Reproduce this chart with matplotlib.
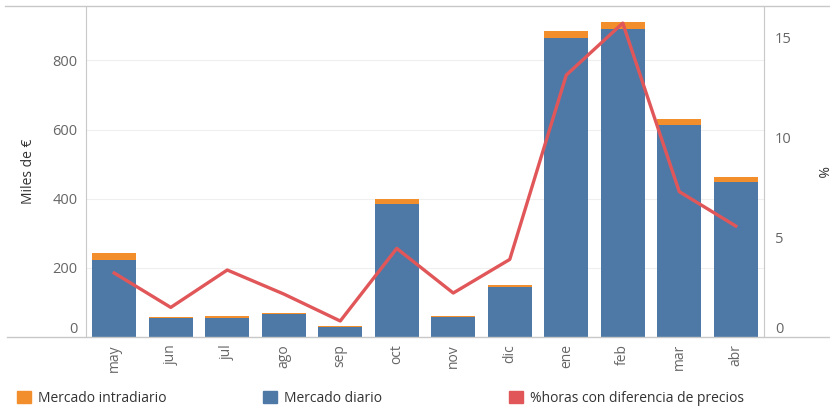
import matplotlib
matplotlib.use('Agg')
import matplotlib.pyplot as plt
import numpy as np
from matplotlib.lines import Line2D
from matplotlib.patches import Patch

plt.rcParams['font.family'] = ['Open Sans', 'DejaVu Sans']

# data
meses = ['may', 'jun', 'jul', 'ago', 'sep', 'oct', 'nov', 'dic', 'ene', 'feb', 'mar', 'abr']
diario = [222, 56, 54, 67, 28, 386, 57, 144, 866, 891, 613, 447]
intradiario = [21, 2, 7, 2, 4, 14, 3, 6, 19, 21, 17, 15]
pct_horas = [3.2, 1.48, 3.35, 2.15, 0.8, 4.43, 2.2, 3.88, 13.1, 15.7, 7.27, 5.55]

c_blue = '#4E79A7'
c_orange = '#F28E2B'
c_red = '#E15759'
c_text = '#666666'
c_line = '#C8C8C8'

fig = plt.figure(figsize=(8.3, 4.07), dpi=100)
ax = fig.add_axes([0.1036, 0.172, 0.8169, 0.813])
ax2 = ax.twinx()

x = np.arange(len(meses))
ax.bar(x, diario, 0.78, color=c_blue, zorder=2)
ax.bar(x, intradiario, 0.78, bottom=diario, color=c_orange, zorder=2)
ax.set_xlim(-0.5, len(meses) - 0.5)
ax.set_ylim(0, 957)
ax.set_yticks([0, 200, 400, 600, 800])
ax.grid(axis='y', color='#EFEFEF', linewidth=0.8, zorder=0)
ax.set_axisbelow(True)

ax2.plot(x, pct_horas, color=c_red, linewidth=2.4, zorder=3)
ax2.set_ylim(0, 16.55)
ax2.set_yticks([0, 5, 10, 15])

ax.set_xticks(x)
ax.set_xticklabels(meses, rotation=90, color=c_text, fontsize=10)
ax.tick_params(axis='x', length=0, pad=5)
ax.tick_params(axis='y', length=0, pad=6, labelcolor=c_text, labelsize=10.5)
ax2.tick_params(axis='y', length=0, pad=8, labelcolor=c_text, labelsize=10.5)

for a in (ax, ax2):
    for s in a.spines.values():
        s.set_visible(False)
ax.spines['left'].set_visible(True)
ax.spines['left'].set_color(c_line)
ax2.spines['right'].set_visible(True)
ax2.spines['right'].set_color(c_line)

# bottom zero labels sit above the baseline
ax.get_yticklabels()[0].set_va('bottom')
ax2.get_yticklabels()[0].set_va('bottom')

ax.set_ylabel('Miles de €', color='#333333', fontsize=10, labelpad=12)
ax2.set_ylabel('%', color='#333333', fontsize=10, rotation=-90, va='center', ha='center')
ax2.yaxis.set_label_coords(1.083, 0.5)

# full-width top and bottom rules
fig.add_artist(Line2D([0.006, 1.0], [0.985, 0.985], color=c_line, linewidth=1, transform=fig.transFigure))
fig.add_artist(Line2D([0.008, 1.0], [0.172, 0.172], color=c_line, linewidth=1, transform=fig.transFigure))

# legend
handles = [Patch(color=c_orange), Patch(color=c_blue), Patch(color=c_red)]
labels = ['Mercado intradiario', 'Mercado diario', '%horas con diferencia de precios']
for h, l, xp in zip(handles, labels, [0.012, 0.309, 0.605]):
    fig.legend([h], [l], loc='center left', bbox_to_anchor=(xp, 0.022), frameon=False,
               handlelength=1.0, handleheight=1.0, handletextpad=0.5, borderpad=0,
               fontsize=10, labelcolor='#333333')

fig.savefig('out.png', dpi=100)
